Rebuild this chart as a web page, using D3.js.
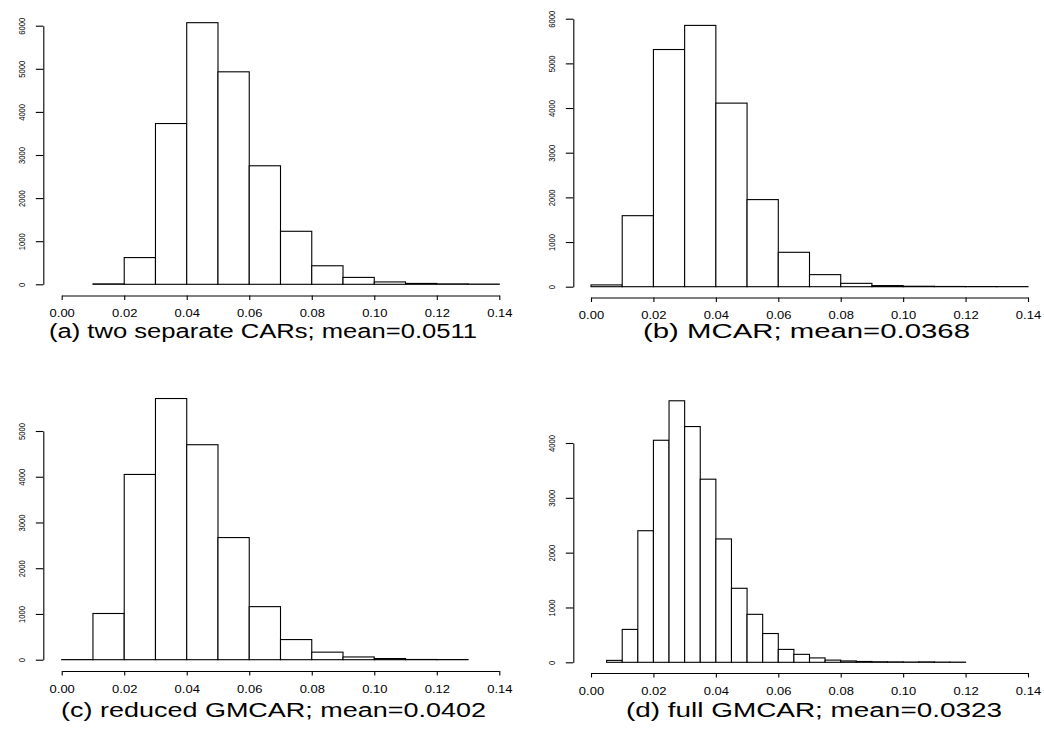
<!DOCTYPE html>
<html><head><meta charset="utf-8">
<script src="https://cdn.jsdelivr.net/npm/d3@7"></script>
<style>
body{margin:0;background:#fff;}
svg{display:block;}
text{font-family:"Liberation Sans",Arial,Helvetica,sans-serif;fill:#000;}
</style></head>
<body><svg id="c" width="1044" height="731"></svg>
<script>
// ---- data ----
const titles = ["(a) two separate CARs; mean=0.0511", "(b)  MCAR; mean=0.0368",
                "(c) reduced GMCAR; mean=0.0402", "(d)  full GMCAR; mean=0.0323"];
const xTicks = [0.00, 0.02, 0.04, 0.06, 0.08, 0.10, 0.12, 0.14];
const yTicksA = [0, 1000, 2000, 3000, 4000, 5000, 6000];
const yTicksB = [0, 1000, 2000, 3000, 4000, 5000, 6000];
const yTicksC = [0, 1000, 2000, 3000, 4000, 5000];
const yTicksD = [0, 1000, 2000, 3000, 4000];
const breaksA = [0.01,0.02,0.03,0.04,0.05,0.06,0.07,0.08,0.09,0.10,0.11,0.12,0.13,0.14];
const countsA = [10, 620, 3730, 6070, 4930, 2750, 1230, 430, 160, 55, 20, 10, 5];
const breaksB = [0.00,0.01,0.02,0.03,0.04,0.05,0.06,0.07,0.08,0.09,0.10,0.11,0.12,0.13,0.14];
const countsB = [40, 1590, 5310, 5850, 4110, 1950, 770, 270, 75, 25, 10, 5, 3, 2];
const breaksC = [0.00,0.01,0.02,0.03,0.04,0.05,0.06,0.07,0.08,0.09,0.10,0.11,0.12,0.13];
const countsC = [2, 1010, 4050, 5710, 4700, 2670, 1160, 440, 165, 60, 25, 5, 3];
const breaksD = [0.005,0.010,0.015,0.020,0.025,0.030,0.035,0.040,0.045,0.050,0.055,0.060,
                 0.065,0.070,0.075,0.080,0.085,0.090,0.095,0.100,0.105,0.110,0.115,0.120];
const countsD = [35, 600, 2400, 4050, 4770, 4300, 3340, 2250, 1350, 875, 525, 235, 145,
                 80, 40, 25, 15, 10, 8, 5, 8, 4, 3];

// ---- layout ----
const panels = [
  {breaks:breaksA, counts:countsA, yTicks:yTicksA, title:titles[0],
   yAxisX:43.3, x0:61.7, x1:499.3, base:284.3, top:25.7, topVal:6000, axisY:295.5,
   titleX:49, titleW:428, titleY:338},
  {breaks:breaksB, counts:countsB, yTicks:yTicksB, title:titles[1],
   yAxisX:573.3, x0:591, x1:1028, base:286.7, top:18.7, topVal:6000, axisY:297.5,
   titleX:643, titleW:327, titleY:338},
  {breaks:breaksC, counts:countsC, yTicks:yTicksC, title:titles[2],
   yAxisX:43.3, x0:61.7, x1:499.3, base:659.7, top:431, topVal:5000, axisY:671,
   titleX:61, titleW:425, titleY:717},
  {breaks:breaksD, counts:countsD, yTicks:yTicksD, title:titles[3],
   yAxisX:573.3, x0:591, x1:1028, base:662.3, top:443, topVal:4000, axisY:673,
   titleX:626, titleW:376, titleY:717}
];

const svg = d3.select("#c");

panels.forEach(p => {
  const x = d3.scaleLinear().domain([0, 0.14]).range([p.x0, p.x1]);
  const y = d3.scaleLinear().domain([0, p.topVal]).range([p.base, p.top]);
  const g = svg.append("g");

  const bins = p.counts.map((c, i) => ({lo:p.breaks[i], hi:p.breaks[i+1], c}));
  g.selectAll("rect").data(bins).join("rect")
    .attr("x", d => x(d.lo))
    .attr("width", d => x(d.hi) - x(d.lo))
    .attr("y", d => y(d.c))
    .attr("height", d => y(0) - y(d.c))
    .attr("fill", "#fff").attr("stroke", "#000").attr("stroke-width", 1.1);

  // x axis
  const xa = g.append("g").attr("transform", `translate(0,${p.axisY})`)
    .call(d3.axisBottom(x).tickValues(xTicks).tickFormat(d3.format(".2f"))
          .tickSize(4.5).tickSizeOuter(0));
  xa.select(".domain").attr("stroke", "#000").attr("stroke-width", 1.1);
  xa.selectAll(".tick line").attr("stroke", "#000").attr("stroke-width", 1.1);
  xa.selectAll(".tick text").attr("y", 0).attr("dy", 0)
    .attr("transform", "translate(0,21.5) scale(1.3,1)")
    .attr("font-size", 10).attr("fill", "#000")
    .style("font-family", '"Liberation Sans",Arial,sans-serif');

  // y axis (line spans first to last tick)
  const yAx = d3.scaleLinear().domain([0, p.yTicks[p.yTicks.length-1]])
    .range([y(0), y(p.yTicks[p.yTicks.length-1])]);
  const ya = g.append("g").attr("transform", `translate(${p.yAxisX},0)`)
    .call(d3.axisLeft(yAx).tickValues(p.yTicks).tickFormat(d3.format("d"))
          .tickSize(7.5).tickSizeOuter(0));
  ya.select(".domain").attr("stroke", "#000").attr("stroke-width", 1.1);
  ya.selectAll(".tick line").attr("stroke", "#000").attr("stroke-width", 1.1);
  ya.selectAll(".tick text").attr("x", 0).attr("dy", 0)
    .attr("y", -21.5 / 1.3)
    .attr("text-anchor", "middle").attr("dominant-baseline", "central")
    .attr("transform", "rotate(-90) scale(1,1.3)")
    .attr("font-size", 7.6).attr("fill", "#000")
    .style("font-family", '"Liberation Sans",Arial,sans-serif');

  // caption
  g.append("text").attr("x", p.titleX).attr("y", p.titleY)
    .attr("font-size", 19.5)
    .attr("textLength", p.titleW).attr("lengthAdjust", "spacingAndGlyphs")
    .text(p.title);
});
</script></body></html>
